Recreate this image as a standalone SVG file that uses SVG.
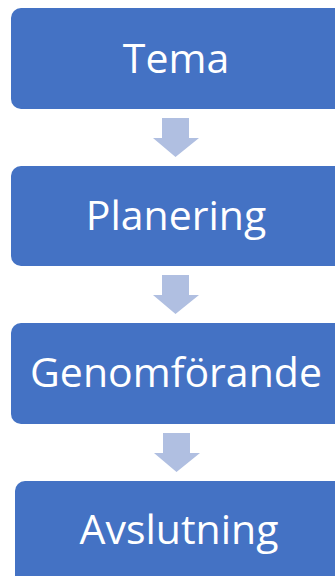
<svg xmlns="http://www.w3.org/2000/svg" width="335" height="576" viewBox="0 0 335 576">
  <style>
    .box { fill: #4472C4; }
    .lbl { fill: #FFFFFF; font-family: "Open Sans", "Noto Sans", sans-serif; font-size: 41px; text-anchor: middle; }
    .arr { fill: #B0BFE1; }
  </style>
  <defs>
    <path id="darrow" d="M -14 0 H 13 V 20 H 23 L -0.5 39 L -23 20 H -14 Z"/>
  </defs>
  <g id="connectors">
    <use href="#darrow" class="arr" x="176" y="118"/>
    <use href="#darrow" class="arr" x="176" y="275"/>
    <use href="#darrow" class="arr" x="177" y="433"/>
  </g>
  <g id="node-tema">
    <rect class="box" x="11" y="8" width="340" height="101" rx="10"/>
    <text class="lbl" x="176" y="73">Tema</text>
  </g>
  <g id="node-planering">
    <rect class="box" x="11" y="166" width="340" height="100" rx="10"/>
    <text class="lbl" x="176" y="230">Planering</text>
  </g>
  <g id="node-genomforande">
    <rect class="box" x="11" y="323" width="340" height="101" rx="10"/>
    <text class="lbl" x="176" y="387">Genomförande</text>
  </g>
  <g id="node-avslutning">
    <rect class="box" x="15" y="481" width="340" height="110" rx="10"/>
    <text class="lbl" x="179" y="544">Avslutning</text>
  </g>
</svg>
